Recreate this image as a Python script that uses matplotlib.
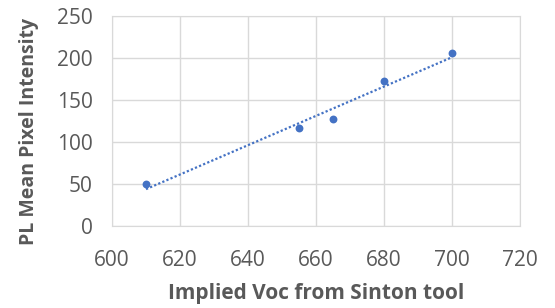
import matplotlib.pyplot as plt
import numpy as np

# values
voc = [610, 655, 665, 680, 700]
pl_intensity = [50, 117, 127, 173, 206]

x_ticks = [600, 620, 640, 660, 680, 700, 720]
y_ticks = [0, 50, 100, 150, 200, 250]

plt.rcParams['font.family'] = ['Open Sans', 'DejaVu Sans']

fig = plt.figure(figsize=(5.55, 3.08), dpi=100)
ax = fig.add_axes([112 / 555, 1 - 226 / 308, 408 / 555, 210 / 308])

blue = '#4472C4'
ax.scatter(voc, pl_intensity, s=32, color=blue, zorder=3, linewidths=0)

# linear trendline, like the spreadsheet one
slope, icpt = np.polyfit(voc, pl_intensity, 1)
xs = np.array([min(voc), max(voc)])
ax.plot(xs, slope * xs + icpt, linestyle=(0, (1, 1)), color=blue, linewidth=1.6, zorder=2)

ax.set_xlim(600, 720)
ax.set_ylim(0, 250)
ax.set_xticks(x_ticks)
ax.set_yticks(y_ticks)
ax.grid(True, color='#d9d9d9', linewidth=1)
ax.set_axisbelow(True)
for s in ax.spines.values():
    s.set_color('#d9d9d9')
ax.tick_params(length=0, labelsize=15, labelcolor='#595959')
ax.tick_params(axis='x', pad=17)
ax.tick_params(axis='y', pad=14)

ax.set_xlabel('Implied Voc from Sinton tool', fontsize=15, fontweight='bold', color='#595959', labelpad=9)
ax.set_ylabel('PL Mean Pixel Intensity', fontsize=14, fontweight='bold', color='#595959')
ax.yaxis.set_label_coords(-0.18, 0.45)

fig.savefig('out.png', dpi=100)
